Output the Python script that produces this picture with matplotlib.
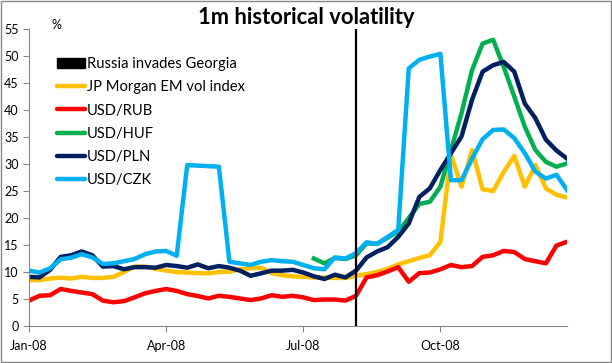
import matplotlib
matplotlib.use('Agg')
import matplotlib.pyplot as plt
import matplotlib.dates as mdates
from matplotlib.patches import Patch, Rectangle
import pandas as pd

plt.rcParams['font.family'] = ['Lato', 'DejaVu Sans']

# weekly (Friday) observations through 2008
dates = pd.date_range('2008-01-04', periods=52, freq='W-FRI')
invasion_date = pd.Timestamp('2008-08-08')

jpm_em = [8.5, 8.5, 8.8, 8.95, 8.8, 9.1, 8.9, 8.9, 9.1, 10.0, 11.0, 11.0, 10.6,
          10.25, 10.0, 9.9, 9.8, 9.75, 10.0, 10.06, 10.5, 10.7, 10.8, 9.8, 9.4, 9.2,
          9.1, 9.0, 8.95, 8.9, 8.9, 9.3, 9.6, 10.0, 10.6, 11.4, 12.0, 12.6, 13.1,
          15.6, 31.7, 25.8, 32.6, 25.3, 25.0, 28.5, 31.5, 25.8, 29.8, 25.5, 24.3, 23.8]
usd_rub = [4.7, 5.6, 5.7, 6.85, 6.5, 6.2, 5.9, 4.7, 4.4, 4.6, 5.3, 6.05, 6.5,
           6.85, 6.5, 5.9, 5.55, 5.1, 5.6, 5.4, 5.1, 4.8, 5.1, 5.7, 5.4, 5.6,
           5.3, 4.8, 4.9, 4.9, 4.7, 5.6, 9.0, 9.4, 10.1, 10.9, 8.2, 9.8, 9.9,
           10.5, 11.3, 10.9, 11.1, 12.8, 13.1, 13.9, 13.7, 12.4, 12.0, 11.6, 14.9, 15.6]
# HUF series only starts in July
usd_huf = [None] * 27 + [12.5, 11.6, 12.6, 12.4, 13.1, 15.3, 15.2, 16.35, 17.5, 20.0, 22.6,
                         23.0, 25.8, 32.6, 39.4, 47.4, 52.3, 53.0, 48.0, 42.5, 36.9,
                         32.6, 30.4, 29.5, 30.1]
usd_pln = [9.1, 9.0, 10.4, 12.8, 13.1, 13.8, 13.1, 11.0, 11.1, 10.5, 10.9, 10.9, 10.8,
           11.3, 11.1, 10.8, 11.4, 10.7, 11.1, 10.8, 10.25, 9.3, 9.75, 10.25, 10.25, 10.4,
           9.9, 9.2, 8.7, 9.5, 9.0, 10.25, 12.7, 13.8, 14.6, 16.5, 19.0, 23.9, 25.5,
           28.9, 32.0, 35.1, 41.9, 47.1, 48.3, 48.9, 47.1, 41.2, 38.5, 34.5, 32.5, 31.0]
usd_czk = [10.25, 9.9, 10.7, 12.35, 12.65, 13.3, 12.7, 11.5, 11.6, 12.0, 12.4, 13.3, 13.8,
           13.9, 13.0, 29.8, 29.7, 29.6, 29.5, 11.9, 11.6, 11.3, 11.9, 12.2, 12.0, 11.9,
           11.3, 10.7, 10.5, 12.7, 12.5, 13.5, 15.5, 15.2, 16.5, 17.8, 47.7, 49.3, 49.9,
           50.4, 27.0, 27.0, 31.0, 34.6, 36.3, 36.4, 34.8, 32.0, 28.6, 27.3, 28.0, 25.2]

huf = pd.Series(usd_huf, index=dates, dtype=float)

fig = plt.figure(figsize=(6.12, 3.63), dpi=100)
ax = fig.add_axes([29 / 612, 1 - 326 / 363, 538 / 612, 297 / 363])

lw = 3.2
ax.plot(dates, jpm_em, color='#FFC000', lw=lw)
ax.plot(dates, usd_rub, color='#FF0000', lw=lw)
ax.plot(huf.index, huf.values, color='#00B050', lw=lw)
ax.plot(dates, usd_pln, color='#002060', lw=lw)
ax.plot(dates, usd_czk, color='#00B0F0', lw=lw)
ax.axvline(invasion_date, ymin=0, ymax=1, color='black', lw=1.6, zorder=5)

ax.set_xlim(dates[0], dates[-1])
ax.set_ylim(0, 55)
ax.set_yticks(range(0, 56, 5))
ax.set_xticks([dates[0], dates[13], dates[26], dates[39]])
ax.xaxis.set_major_formatter(mdates.DateFormatter('%b-%y'))

for s in ['top', 'right']:
    ax.spines[s].set_visible(False)
for s in ['left', 'bottom']:
    ax.spines[s].set_color('#868686')
ax.tick_params(axis='both', colors='#868686', labelcolor='black', labelsize=9,
               length=4, width=0.8)
ax.tick_params(axis='x', pad=6)

fig.text(52 / 612, 1 - 25 / 363, '%', fontsize=9, va='center')
fig.text(0.5, 1 - 18 / 363, '1m historical volatility', ha='center', va='center',
         fontsize=15.8, fontweight='bold')

handles = [Patch(facecolor='black', edgecolor='black')]
for c in ['#FFC000', '#FF0000', '#00B050', '#002060', '#00B0F0']:
    handles.append(plt.Line2D([], [], color=c, lw=lw, solid_capstyle='round'))
labels = ['Russia invades Georgia', 'JP Morgan EM vol index', 'USD/RUB',
          'USD/HUF', 'USD/PLN', 'USD/CZK']
leg = fig.legend(handles, labels, loc='upper left',
                 bbox_to_anchor=(57 / 612, 1 - 57 / 363), frameon=False,
                 fontsize=10.6, handlelength=1.9, handletextpad=0.15,
                 labelspacing=0.63, borderpad=0, borderaxespad=0)

fig.patches.append(Rectangle((0.002, 0.003), 0.996, 0.994, transform=fig.transFigure,
                             fill=False, edgecolor='#868686', lw=1))

fig.savefig('out.png', dpi=100)
